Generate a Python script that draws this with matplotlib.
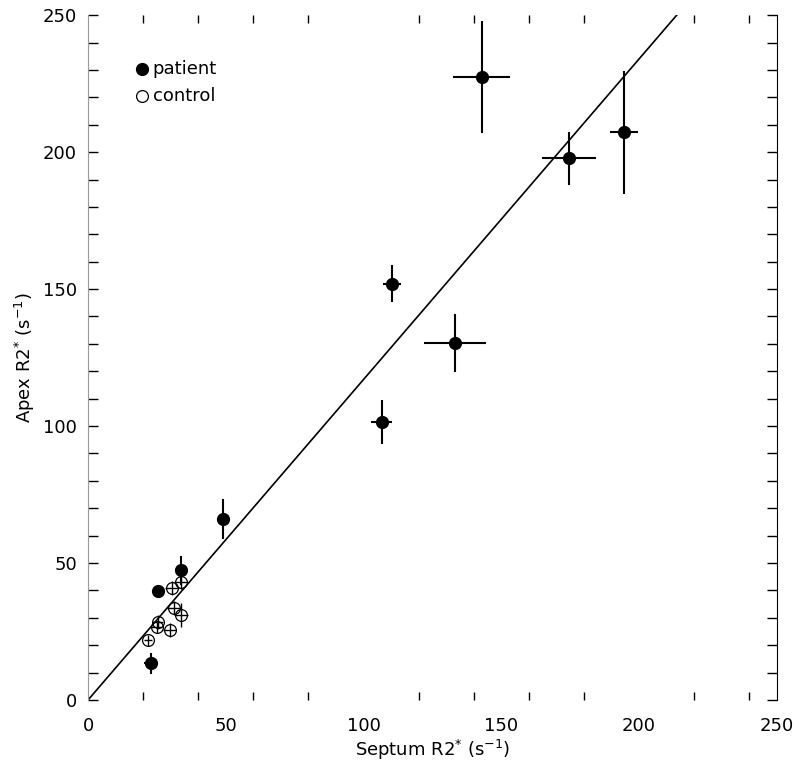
import matplotlib.pyplot as plt
from matplotlib.ticker import MultipleLocator, FixedLocator
import numpy as np

# patient data (filled circles)
patientX = [142.9, 174.5, 194.6, 110.4, 133.3, 106.6, 49.1, 33.6, 25.4, 22.7]
patientY = [227.5, 197.7, 207.2, 151.9, 130.2, 101.6, 66.0, 47.4, 39.9, 13.4]
patientXerr = [10.3, 9.8, 5.2, 3.3, 11.2, 3.8, 0.0, 0.0, 0.0, 2.5]
patientYerr = [20.5, 9.6, 22.5, 6.75, 10.6, 8.0, 7.4, 5.3, 2.0, 3.9]

# control data (open circles)
controlX = [33.6, 30.6, 31.2, 33.9, 25.4, 25.0, 29.6, 21.8]
controlY = [43.2, 40.8, 33.5, 31.0, 28.5, 26.5, 25.5, 21.9]
controlXerr = [2.5, 2.5, 2.5, 2.5, 2.0, 2.0, 2.5, 1.5]
controlYerr = [2.5, 2.5, 2.5, 4.5, 2.5, 2.0, 2.5, 2.0]

fitSlope = 1.17


def formatChart(ax):
    ax.set_xlim(0, 250)
    ax.set_ylim(0, 250)

    ax.spines["top"].set_visible(False)
    ax.spines["bottom"].set_visible(False)
    ax.spines["left"].set_color("#999999")
    ax.spines["right"].set_color("#000000")

    # IDL-style: x labels every 50, tick marks every 20
    ax.xaxis.set_major_locator(MultipleLocator(50))
    ax.xaxis.set_minor_locator(FixedLocator(np.arange(20, 250, 20)))
    ax.yaxis.set_major_locator(MultipleLocator(50))
    ax.yaxis.set_minor_locator(MultipleLocator(10))

    ax.tick_params(axis="x", which="major", length=0, pad=12, labelsize=13)
    ax.tick_params(axis="x", which="minor", length=6, width=1, direction="in",
                   top=True, bottom=True)
    ax.tick_params(axis="y", which="both", length=7, width=1, direction="in",
                   left=True, right=True, labelsize=13, pad=8)

    ax.set_xlabel("Septum R2$^{*}$ (s$^{-1}$)", fontsize=13, labelpad=2)
    ax.set_ylabel("Apex R2$^{*}$ (s$^{-1}$)", fontsize=13, labelpad=4)


def plotChart():
    fig = plt.figure(figsize=(8.0, 7.73), dpi=100)
    ax = fig.add_axes([0.11, 0.0944, 0.861, 0.886])
    formatChart(ax)

    xs = np.array([0, 250])
    ax.plot(xs, fitSlope * xs, color="black", linewidth=1.2, zorder=2)

    ax.errorbar(controlX, controlY, xerr=controlXerr, yerr=controlYerr,
                fmt="o", markersize=8.5, markerfacecolor="none",
                markeredgecolor="black", markeredgewidth=0.9,
                ecolor="black", elinewidth=1.0, capsize=0, zorder=3)
    ax.errorbar(patientX, patientY, xerr=patientXerr, yerr=patientYerr,
                fmt="o", markersize=8.5, color="black",
                ecolor="black", elinewidth=1.5, capsize=0, zorder=4)

    # legend drawn by hand in IDL style
    ax.plot([19.5], [230.5], "o", markersize=8.5, color="black", clip_on=False)
    ax.plot([19.5], [220.5], "o", markersize=8.5, markerfacecolor="none",
            markeredgecolor="black", markeredgewidth=0.9, clip_on=False)
    ax.text(23.5, 230.5, "patient", fontsize=13, va="center", ha="left")
    ax.text(23.5, 220.5, "control", fontsize=13, va="center", ha="left")

    fig.savefig("out.png", dpi=100)
    plt.close(fig)


def main():
    plotChart()


if __name__ == "__main__":
    main()
